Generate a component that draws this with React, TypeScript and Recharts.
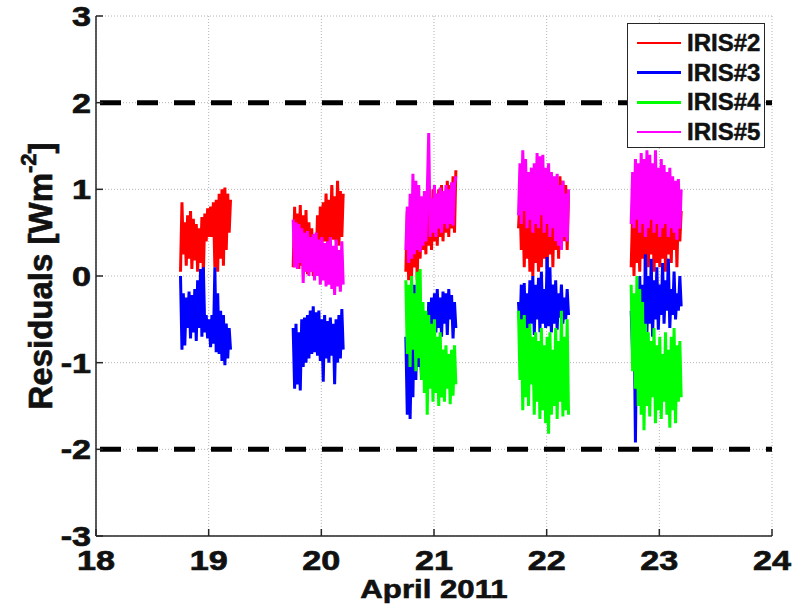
import React from 'react';
import { ComposedChart, Line, XAxis, YAxis, CartesianGrid, ReferenceLine } from 'recharts';

// sample times within each night, as a fraction of a day relative to midnight
const nightOffsets = [
  -0.250, -0.237, -0.225, -0.212, -0.199, -0.187, -0.174, -0.161, -0.149, -0.136, -0.123, -0.110,
  -0.098, -0.085, -0.072, -0.060, -0.047, -0.034, -0.022, -0.009, 0.004, 0.017, 0.029, 0.042,
  0.055, 0.067, 0.080, 0.093, 0.106, 0.118, 0.131, 0.144, 0.156, 0.169, 0.182, 0.194,
];

const xTicks = [18, 19, 20, 21, 22, 23, 24];
const yTicks = [-3, -2, -1, 0, 1, 2, 3];
const limits = [2, -2];

// IRIS#2
const iris2Night19 = [0.05, 0.85, 0.25, 0.62, 0.12, 0.70, 0.20, 0.75, 0.08, 0.66, 0.18, 0.60, 0.05, 0.55, 0.15, 0.68, 0.02, 0.72, 0.40, 0.78, 0.45, 0.80, 0.45, 0.85, 0.10, 0.88, 0.05, 0.95, 0.20, 1.00, 0.12, 1.02, 0.30, 0.95, 0.50, 0.88];
const iris2Night20 = [0.10, 0.80, 0.15, 0.72, 0.08, 0.82, 0.12, 0.70, 0.05, 0.76, 0.02, 0.62, 0.05, 0.55, 0.00, 0.48, 0.10, 0.70, 0.20, 0.80, 0.35, 0.85, 0.40, 0.95, 0.38, 0.88, 0.45, 1.05, 0.42, 0.92, 0.40, 1.10, 0.35, 0.98, 0.45, 0.95];
const iris2Night21 = [0.05, 0.75, -0.05, 0.80, 0.00, 0.85, 0.10, 0.70, -0.05, 0.80, 0.20, 0.90, 0.30, 0.85, 0.25, 0.95, 0.35, 0.90, 0.30, 1.00, 0.40, 0.95, 0.35, 1.00, 0.45, 1.05, 0.40, 0.98, 0.50, 1.10, 0.45, 1.05, 0.55, 1.15, 0.50, 1.22];
const iris2Night22 = [0.55, 0.90, 0.30, 0.85, 0.10, 0.80, 0.20, 0.75, 0.05, 0.85, 0.00, 0.70, 0.15, 0.65, 0.05, 0.90, 0.10, 0.85, 0.20, 0.75, 0.08, 0.80, 0.25, 0.95, 0.10, 0.85, 0.30, 1.00, 0.20, 1.15, 0.35, 1.10, 0.40, 1.05, 0.30, 0.95];
const iris2Night23 = [0.10, 0.75, 0.00, 0.80, 0.15, 0.70, 0.05, 0.85, 0.20, 0.78, -0.02, 0.90, 0.10, 0.72, 0.25, 0.85, 0.05, 0.80, 0.15, 0.95, 0.10, 0.75, 0.20, 0.90, 0.05, 0.85, 0.25, 0.80, 0.15, 0.92, 0.30, 0.85, 0.10, 0.80, 0.40, 0.75];

// IRIS#3
const iris3Night19 = [0.00, -0.85, -0.20, -0.80, -0.25, -0.60, -0.18, -0.72, -0.22, -0.65, -0.15, -0.75, -0.05, -0.60, 0.08, -0.70, 0.10, -0.65, -0.45, -0.72, -0.50, -0.82, -0.45, -0.78, 0.10, -0.88, -0.20, -0.90, -0.40, -0.98, -0.45, -1.03, -0.55, -0.95, -0.60, -0.85];
const iris3Night20 = [-0.60, -1.30, -0.55, -1.25, -0.65, -1.32, -0.50, -1.05, -0.48, -1.00, -0.45, -0.95, -0.40, -0.90, -0.35, -0.88, -0.42, -0.92, -0.40, -0.98, -0.50, -1.22, -0.45, -0.95, -0.52, -1.00, -0.48, -0.92, -0.55, -1.25, -0.50, -1.00, -0.45, -0.95, -0.38, -0.85];
const iris3Night21 = [-0.70, -1.60, -0.75, -1.65, -0.80, -1.40, -0.10, -1.20, -0.20, -1.05, -0.80, -1.20, -0.60, -1.00, -0.45, -0.90, -0.30, -0.75, -0.25, -0.70, -0.20, -0.65, -0.15, -0.60, -0.25, -0.70, -0.18, -0.55, -0.20, -0.68, -0.15, -0.50, -0.22, -0.72, -0.30, -0.60];
const iris3Night22 = [-0.30, -0.65, -0.10, -0.75, -0.08, -0.70, -0.20, -0.62, -0.05, -0.55, 0.00, -0.68, -0.10, -0.50, -0.02, -0.65, 0.05, -0.55, -0.15, -0.60, 0.22, -0.58, 0.10, -0.65, -0.10, -0.55, -0.05, -0.62, -0.20, -0.48, -0.10, -0.55, -0.25, -0.50, -0.15, -0.45];
const iris3Night23 = [-0.40, -0.90, -0.30, -1.92, -0.20, -1.00, 0.00, -0.70, -0.10, -0.60, 0.25, -0.65, 0.00, -0.55, 0.20, -0.70, -0.05, -0.50, 0.10, -0.62, -0.10, -0.45, 0.15, -0.55, -0.05, -0.40, 0.20, -0.60, -0.15, -0.45, 0.05, -0.50, -0.20, -0.40, 0.00, -0.35];

// IRIS#4
const iris4Night21 = [-0.05, -0.90, -0.10, -1.05, 0.00, -0.85, -0.20, -1.10, 0.05, -0.95, 0.08, -1.20, -0.30, -1.35, -0.40, -1.60, -0.45, -1.30, -0.55, -1.45, -0.50, -1.35, -0.70, -1.50, -0.65, -1.40, -0.85, -1.45, -0.80, -1.30, -0.90, -1.48, -0.85, -1.38, -0.80, -1.25];
const iris4Night22 = [-0.40, -1.20, -0.50, -1.55, -0.45, -1.40, -0.60, -1.50, -0.55, -1.25, -0.70, -1.60, -0.65, -1.45, -0.75, -1.65, -0.60, -1.55, -0.80, -1.70, -0.70, -1.82, -0.65, -1.60, -0.85, -1.50, -0.60, -1.65, -0.75, -1.45, -0.40, -1.62, -0.70, -1.55, -0.50, -1.60];
const iris4Night23 = [-0.10, -1.10, -0.20, -1.30, 0.00, -1.50, -0.15, -1.60, -0.30, -1.78, -0.55, -1.50, -0.65, -1.62, -0.75, -1.40, -0.60, -1.70, -0.80, -1.55, -0.70, -1.65, -0.90, -1.45, -0.65, -1.60, -0.85, -1.75, -0.70, -1.55, -0.60, -1.70, -0.80, -1.45, -0.75, -1.40];

// IRIS#5
const iris5Night20 = [0.65, 0.10, 0.62, 0.08, 0.60, 0.15, 0.55, -0.08, 0.50, 0.05, 0.52, 0.00, 0.45, 0.05, 0.48, -0.05, 0.50, 0.00, 0.42, -0.10, 0.45, -0.05, 0.38, -0.12, 0.40, -0.10, 0.45, -0.15, 0.35, -0.22, 0.42, -0.12, 0.30, -0.18, 0.40, -0.10];
const iris5Night21 = [0.30, 0.80, 0.15, 0.95, 0.20, 1.18, 0.25, 1.10, 0.30, 1.05, 0.28, 0.92, 0.35, 0.98, 0.40, 0.95, 1.65, 0.45, 0.90, 0.50, 1.05, 0.45, 0.95, 0.55, 1.02, 0.50, 0.98, 0.60, 1.05, 0.55, 1.00, 0.60, 1.08, 0.58, 1.05, 1.15];
const iris5Night22 = [0.70, 1.30, 0.60, 1.45, 0.75, 1.35, 0.55, 1.20, 0.65, 1.25, 0.50, 1.30, 0.60, 1.42, 0.55, 1.38, 0.70, 1.40, 0.50, 1.25, 0.60, 1.30, 0.45, 1.20, 0.55, 1.15, 0.40, 1.18, 0.35, 1.05, 0.30, 1.10, 0.45, 0.95, 0.40, 1.00];
const iris5Night23 = [0.60, 1.20, 0.55, 1.35, 0.65, 1.30, 0.50, 1.42, 0.60, 1.35, 0.45, 1.45, 0.55, 1.40, 0.65, 1.30, 0.50, 1.45, 0.60, 1.25, 0.45, 1.35, 0.55, 1.28, 0.60, 1.20, 0.45, 1.25, 0.55, 1.15, 0.50, 1.10, 0.42, 1.12, 0.55, 1.00];

type Pt = { x: number; y: number | null };

// join the nights of one instrument into a single trace, broken between nights
const buildTrace = (nights: [number, number[]][]): Pt[] => {
  const pts: Pt[] = [];
  nights.forEach(([day, vals], n) => {
    if (n > 0) pts.push({ x: day - 0.5, y: null });
    vals.forEach((v, i) => pts.push({ x: day + nightOffsets[i], y: v }));
  });
  return pts;
};

const series = [
  { name: 'IRIS#2', color: '#ff0000', data: buildTrace([[19, iris2Night19], [20, iris2Night20], [21, iris2Night21], [22, iris2Night22], [23, iris2Night23]]) },
  { name: 'IRIS#3', color: '#0000ff', data: buildTrace([[19, iris3Night19], [20, iris3Night20], [21, iris3Night21], [22, iris3Night22], [23, iris3Night23]]) },
  { name: 'IRIS#4', color: '#00ff00', data: buildTrace([[21, iris4Night21], [22, iris4Night22], [23, iris4Night23]]) },
  { name: 'IRIS#5', color: '#ff00ff', data: buildTrace([[20, iris5Night20], [21, iris5Night21], [22, iris5Night22], [23, iris5Night23]]) },
];

const FONT = '"Liberation Sans", Arial, sans-serif';
const INK = '#111';
const AXIS = '#262626';
const TICK_LEN = 7;

const BottomTick = ({ x, y, payload }: any) => (
  <g>
    <line x1={x} y1={y} x2={x} y2={y - TICK_LEN} stroke={AXIS} strokeWidth={1.5} />
    <text transform={`translate(${x},${y + 34}) scale(1.22,1)`} textAnchor="middle"
      fontFamily={FONT} fontWeight="bold" fontSize={28} fill={INK} stroke={INK} strokeWidth={0.7}>{payload.value}</text>
  </g>
);

const LeftTick = ({ x, y, payload }: any) => (
  <g>
    <line x1={x} y1={y} x2={x + TICK_LEN} y2={y} stroke={AXIS} strokeWidth={1.5} />
    <text transform={`translate(${x - 5},${y + 10}) scale(1.22,1)`} textAnchor="end"
      fontFamily={FONT} fontWeight="bold" fontSize={28} fill={INK} stroke={INK} strokeWidth={0.7}>{payload.value}</text>
  </g>
);

const TopTick = ({ x, y }: any) => (
  <line x1={x} y1={y} x2={x} y2={y + TICK_LEN} stroke={AXIS} strokeWidth={1.5} />
);

const RightTick = ({ x, y }: any) => (
  <line x1={x} y1={y} x2={x - TICK_LEN} y2={y} stroke={AXIS} strokeWidth={1.5} />
);

const XTitle = ({ viewBox }: any) => (
  <text transform={`translate(${viewBox.x + viewBox.width / 2},${viewBox.y + 62}) scale(1.2,1)`}
    textAnchor="middle" fontFamily={FONT} fontWeight="bold" fontSize={26} fill={INK} stroke={INK} strokeWidth={0.6}>
    April 2011
  </text>
);

const YTitle = ({ viewBox }: any) => (
  <text transform={`translate(40,${viewBox.y + viewBox.height / 2}) rotate(-90) scale(1.1,1.1)`}
    textAnchor="middle" dominantBaseline="central" fontFamily={FONT} fontWeight="bold" fontSize={30}
    fill={INK} stroke={INK} strokeWidth={0.6}>
    Residuals [Wm<tspan dy={-11} fontSize={20}>-2</tspan><tspan dy={11}>]</tspan>
  </text>
);

const LegendBox = () => (
  <div style={{
    position: 'absolute', left: 627, top: 23, width: 136, height: 123, background: '#fff',
    border: '1px solid #262626', fontFamily: FONT, fontWeight: 'bold', fontSize: 24, color: INK,
    WebkitTextStroke: '0.5px #111',
  }}>
    {series.map((s, i) => (
      <div key={s.name} style={{ position: 'absolute', left: 0, top: 4 + i * 29.7, height: 30, display: 'flex', alignItems: 'center' }}>
        <div style={{ width: 44, height: 2.5, background: s.color, marginLeft: 9, marginRight: 6 }} />
        <span>{s.name}</span>
      </div>
    ))}
  </div>
);

const App = () => {
  return (
    <div style={{ position: 'absolute', left: 0, top: 0, width: 801, height: 610, background: '#fff' }}>
      <ComposedChart width={801} height={610} margin={{ top: 16, right: 29, bottom: 0, left: 0 }}>
        <CartesianGrid stroke="#b4b4b4" strokeDasharray="1 2" />
        <XAxis dataKey="x" type="number" domain={[18, 24]} ticks={xTicks} allowDataOverflow
          height={74} tickSize={0} tickMargin={0} tick={<BottomTick />} stroke={AXIS} strokeWidth={1.5}
          label={<XTitle />} />
        <XAxis xAxisId="top" orientation="top" dataKey="x" type="number" domain={[18, 24]} ticks={xTicks}
          height={0} tickSize={0} tickMargin={0} tick={<TopTick />} stroke={AXIS} strokeWidth={1.5} />
        <YAxis type="number" domain={[-3, 3]} ticks={yTicks} allowDataOverflow width={96}
          tickSize={0} tickMargin={0} tick={<LeftTick />} stroke={AXIS} strokeWidth={1.5}
          label={<YTitle />} />
        <YAxis yAxisId="right" orientation="right" type="number" domain={[-3, 3]} ticks={yTicks}
          width={0} tickSize={0} tickMargin={0} tick={<RightTick />} stroke={AXIS} strokeWidth={1.5} />
        {series.map((s) => (
          <Line key={s.name} data={s.data} dataKey="y" name={s.name} type="linear" stroke={s.color}
            strokeWidth={3} strokeLinejoin="miter" dot={false} activeDot={false} connectNulls={false} isAnimationActive={false} />
        ))}
        {limits.map((v) => (
          <ReferenceLine key={v} y={v} stroke="#000" strokeWidth={5} strokeDasharray="21 16" strokeDashoffset={33} />
        ))}
      </ComposedChart>
      <LegendBox />
    </div>
  );
};

export default App;
